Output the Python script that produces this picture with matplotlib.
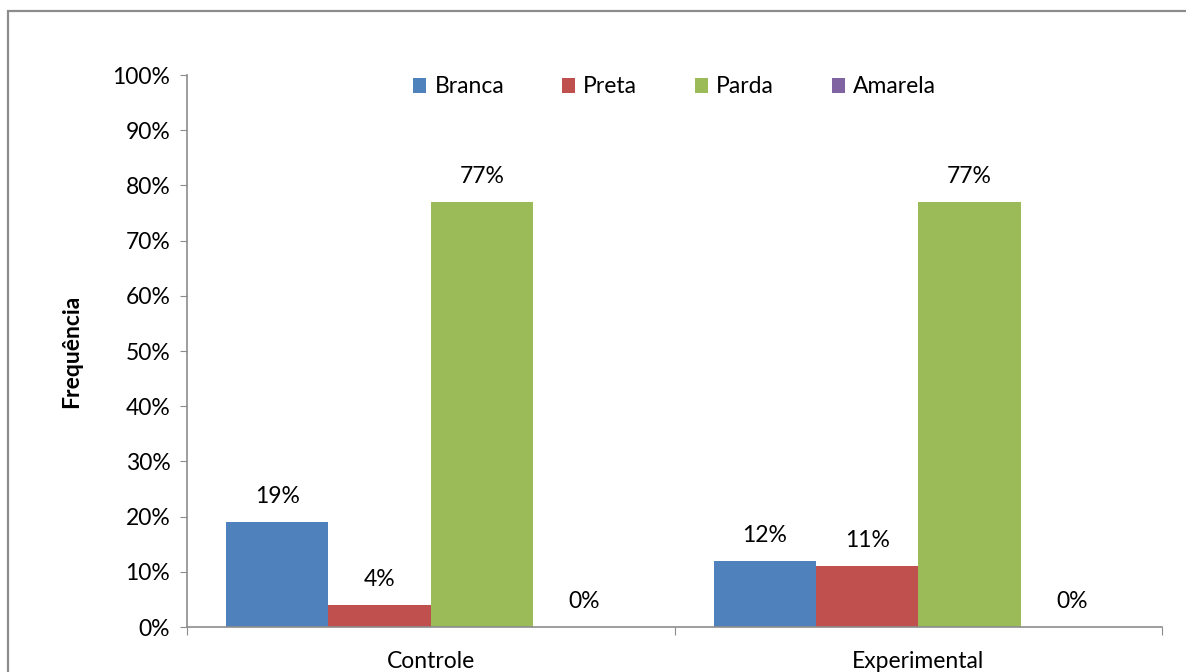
import numpy as np
import matplotlib.pyplot as plt
from matplotlib.patches import Rectangle

plt.rcParams['font.family'] = ['Lato', 'DejaVu Sans']

grupos = ['Controle', 'Experimental']
racas = ['Branca', 'Preta', 'Parda', 'Amarela']
cores = ['#4F81BD', '#C0504D', '#9BBB59', '#8064A2']
valores = {
    'Branca': [19, 12],
    'Preta': [4, 11],
    'Parda': [77, 77],
    'Amarela': [0, 0],
}

W, H = 1186, 672
fs = 16.5
fig = plt.figure(figsize=(W / 100, H / 100), dpi=100)
ax = fig.add_axes([187 / W, 1 - 627 / H, (1162 - 187) / W, (627 - 75) / H])

# moldura cinza do grafico (sai da imagem a direita e embaixo)
borda = '#8C8C8C'
fig.add_artist(Rectangle((8 / W, -0.2), 1.2, 1.2 - 10.5 / H, transform=fig.transFigure,
                         fill=False, edgecolor=borda, lw=1.6))

x = np.arange(len(grupos))
largura = 0.21
for i, (raca, cor) in enumerate(zip(racas, cores)):
    pos = x + (i - 1.5) * largura
    barras = ax.bar(pos, valores[raca], largura, color=cor, label=raca, zorder=2)
    for b, v in zip(barras, valores[raca]):
        ax.annotate(f'{v}%', (b.get_x() + b.get_width() / 2, v),
                    xytext=(0, 18.5), textcoords='offset points',
                    ha='center', va='center', fontsize=fs)

ax.set_xlim(-0.5, 1.5)
ax.set_ylim(0, 100)
ax.set_yticks(np.arange(0, 101, 10))
ax.set_yticklabels([f'{t}%' for t in range(0, 101, 10)], fontsize=fs)

# rotulos das categorias no centro, ticks nas divisas
ax.set_xticks([-0.5, 0.5, 1.5])
ax.set_xticklabels([])
ax.set_xticks(x, minor=True)
ax.set_xticklabels(grupos, minor=True, fontsize=fs)
ax.tick_params(axis='x', which='minor', length=0, pad=17)
ax.tick_params(axis='x', which='major', length=6, color=borda, direction='out')
ax.tick_params(axis='y', length=5, color=borda, direction='out', pad=7)

for lado in ['top', 'right']:
    ax.spines[lado].set_visible(False)
for lado in ['left', 'bottom']:
    ax.spines[lado].set_color(borda)
    ax.spines[lado].set_linewidth(1.2)

ax.set_ylabel('Frequência', fontsize=fs, fontweight='bold', labelpad=22)

ax.legend(loc='upper center', bbox_to_anchor=(0.5, 1.035), ncol=4, frameon=False,
          fontsize=fs, handlelength=0.6, handleheight=0.6, handletextpad=0.35,
          columnspacing=2.5)

fig.savefig('out.png', dpi=100)
